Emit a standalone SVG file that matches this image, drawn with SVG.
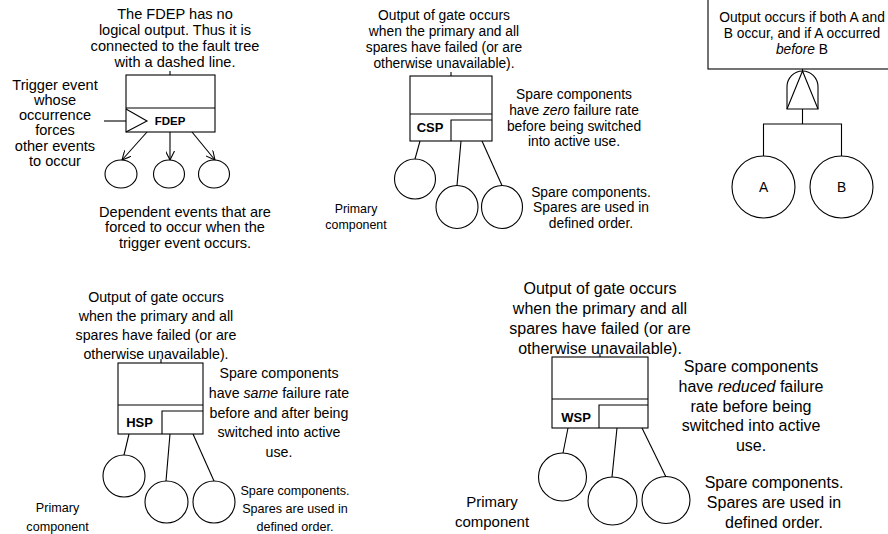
<svg xmlns="http://www.w3.org/2000/svg" width="888" height="534" viewBox="0 0 888 534">
<style>
.ln{fill:none;stroke:#000;stroke-width:1.1}
.bx{fill:#fff;stroke:#000;stroke-width:1.1}
text{font-family:"Liberation Sans",Arial,sans-serif;fill:#000;text-anchor:middle}
.t1{font-size:14.6px}
.t2{font-size:13.8px}
.t3{font-size:14.2px}
.t4{font-size:16px}
.s2{font-size:12.4px}
.s3{font-size:12.6px}
.s4{font-size:15px}
.lb{font-weight:bold;font-size:11.5px}
.lb2{font-weight:bold;font-size:13px}
</style>
<defs>
<marker id="arr" viewBox="0 0 10 10" refX="10" refY="5" markerWidth="9" markerHeight="9" markerUnits="userSpaceOnUse" orient="auto">
<path d="M0,0 L10,5 L0,10" fill="none" stroke="#000" stroke-width="1.2"/>
</marker>
</defs>
<rect width="888" height="534" fill="#fff"/>

<g id="fdep-gate">
<rect class="bx" x="126" y="75" width="89" height="57"/>
<line class="ln" x1="126" y1="108" x2="215" y2="108"/>
<polyline class="ln" points="126,109 147,121 126,132"/>
<line class="ln" x1="170" y1="71" x2="170" y2="75"/>
<text class="lb" x="170" y="125">FDEP</text>
</g>
<g id="fdep-events">
<ellipse class="ln" cx="121" cy="174" rx="16" ry="14"/>
<ellipse class="ln" cx="169" cy="174" rx="15.5" ry="14"/>
<ellipse class="ln" cx="214" cy="174" rx="15.5" ry="14"/>
</g>
<g id="fdep-text">
<text class="t1"><tspan x="175" y="19">The FDEP has no</tspan><tspan x="175" y="35">logical output. Thus it is</tspan><tspan x="175" y="51">connected to the fault tree</tspan><tspan x="175" y="67">with a dashed line.</tspan></text>
<text class="t1"><tspan x="55" y="90">Trigger event</tspan><tspan x="55" y="105">whose</tspan><tspan x="55" y="120">occurrence</tspan><tspan x="55" y="135">forces</tspan><tspan x="55" y="151">other events</tspan><tspan x="55" y="166">to occur</tspan></text>
<text class="t1"><tspan x="185" y="217">Dependent events that are</tspan><tspan x="185" y="232">forced to occur when the</tspan><tspan x="185" y="248">trigger event occurs.</tspan></text>
</g>

<g id="csp-gate">
<rect class="bx" x="410" y="76" width="82" height="65"/>
<line class="ln" x1="410" y1="114" x2="492" y2="114"/>
<polyline class="ln" points="451,141 451,120 492,120"/>
<line class="ln" x1="451" y1="72" x2="451" y2="76"/>
<text class="lb2" x="430" y="132">CSP</text>
</g>
<g id="csp-events">
<ellipse class="ln" cx="415" cy="179" rx="20.5" ry="20"/>
<ellipse class="ln" cx="457" cy="207" rx="21" ry="21.5"/>
<ellipse class="ln" cx="502" cy="207" rx="20.5" ry="21.5"/>
</g>
<g id="csp-text">
<text class="t2"><tspan x="444" y="20">Output of gate occurs</tspan><tspan x="444" y="36">when the primary and all</tspan><tspan x="444" y="52">spares have failed (or are</tspan><tspan x="444" y="68">otherwise unavailable).</tspan></text>
<text class="t2"><tspan x="574" y="99">Spare components</tspan><tspan x="574" y="115">have <tspan font-style="italic">zero</tspan> failure rate</tspan><tspan x="574" y="131">before being switched</tspan><tspan x="574" y="146">into active use.</tspan></text>
<text class="s2"><tspan x="356" y="213">Primary</tspan><tspan x="356" y="229">component</tspan></text>
<text class="t2"><tspan x="591" y="197">Spare components.</tspan><tspan x="591" y="212">Spares are used in</tspan><tspan x="591" y="228">defined order.</tspan></text>
</g>

<g id="pand-output">
<rect class="bx" x="708" y="-2" width="190" height="71"/>
<text class="t2"><tspan x="802" y="22">Output occurs if both A and</tspan><tspan x="802" y="38">B occur, and if A occurred</tspan><tspan x="802" y="54"><tspan font-style="italic">before</tspan> B</tspan></text>
</g>
<g id="pand-gate">
<path class="bx" d="M787,109 V87 A15.5,16 0 0 1 818,87 V109 Z"/>
<polyline class="ln" points="787,109 802.5,71 818,109"/>
</g>
<g id="pand-a">
<ellipse class="ln" cx="763.5" cy="187" rx="31.5" ry="31"/>
<text class="t2" x="763.5" y="192">A</text>
</g>
<g id="pand-b">
<ellipse class="ln" cx="841.5" cy="187" rx="31.5" ry="31"/>
<text class="t2" x="841.5" y="192">B</text>
</g>

<g id="hsp-gate">
<rect class="bx" x="118" y="363" width="85" height="71"/>
<line class="ln" x1="118" y1="405" x2="203" y2="405"/>
<polyline class="ln" points="162,434 162,411 203,411"/>
<line class="ln" x1="161" y1="359" x2="161" y2="363"/>
<text class="lb2" x="139.5" y="427">HSP</text>
</g>
<g id="hsp-events">
<ellipse class="ln" cx="124" cy="476" rx="21" ry="21"/>
<ellipse class="ln" cx="166.5" cy="502" rx="21.5" ry="21"/>
<ellipse class="ln" cx="214" cy="502" rx="21" ry="21"/>
</g>
<g id="hsp-text">
<text class="t3"><tspan x="156" y="302">Output of gate occurs</tspan><tspan x="156" y="321">when the primary and all</tspan><tspan x="156" y="340">spares have failed (or are</tspan><tspan x="156" y="359">otherwise unavailable).</tspan></text>
<text class="t3"><tspan x="279" y="378">Spare components</tspan><tspan x="279" y="398">have <tspan font-style="italic">same</tspan> failure rate</tspan><tspan x="279" y="418">before and after being</tspan><tspan x="279" y="437">switched into active</tspan><tspan x="279" y="457">use.</tspan></text>
<text class="s3"><tspan x="57.5" y="512">Primary</tspan><tspan x="57.5" y="531">component</tspan></text>
<text class="s3"><tspan x="295" y="495">Spare components.</tspan><tspan x="295" y="513">Spares are used in</tspan><tspan x="295" y="531">defined order.</tspan></text>
</g>

<g id="wsp-gate">
<rect class="bx" x="552" y="357" width="96" height="71"/>
<line class="ln" x1="552" y1="399" x2="648" y2="399"/>
<polyline class="ln" points="599,428 599,405 648,405"/>
<line class="ln" x1="600" y1="353" x2="600" y2="357"/>
<text class="lb2" x="576" y="422">WSP</text>
</g>
<g id="wsp-events">
<ellipse class="ln" cx="562.5" cy="477" rx="24" ry="24"/>
<ellipse class="ln" cx="612.5" cy="501" rx="24.5" ry="24"/>
<ellipse class="ln" cx="666" cy="500" rx="24" ry="23.5"/>
</g>
<g id="wsp-text">
<text class="t4"><tspan x="600" y="294">Output of gate occurs</tspan><tspan x="600" y="314">when the primary and all</tspan><tspan x="600" y="334">spares have failed (or are</tspan><tspan x="600" y="354">otherwise unavailable).</tspan></text>
<text class="t4"><tspan x="751" y="372">Spare components</tspan><tspan x="751" y="392">have <tspan font-style="italic">reduced</tspan> failure</tspan><tspan x="751" y="412">rate before being</tspan><tspan x="751" y="431">switched into active</tspan><tspan x="751" y="451">use.</tspan></text>
<text class="s4"><tspan x="492" y="507">Primary</tspan><tspan x="492" y="527">component</tspan></text>
<text class="t4"><tspan x="774" y="488">Spare components.</tspan><tspan x="774" y="508">Spares are used in</tspan><tspan x="774" y="528">defined order.</tspan></text>
</g>

<g id="connectors">
<line class="ln" x1="104" y1="121" x2="126" y2="121"/>
<line class="ln" x1="147" y1="132" x2="122" y2="160" marker-end="url(#arr)"/>
<line class="ln" x1="170" y1="132" x2="170" y2="160" marker-end="url(#arr)"/>
<line class="ln" x1="192" y1="132" x2="215" y2="160" marker-end="url(#arr)"/>
<line class="ln" x1="420" y1="141" x2="415" y2="159"/>
<line class="ln" x1="461" y1="141" x2="457" y2="185.5"/>
<line class="ln" x1="482" y1="141" x2="502" y2="185.5"/>
<line class="ln" x1="802.5" y1="69" x2="802.5" y2="71"/>
<polyline class="ln" points="802.5,109 802.5,124"/>
<polyline class="ln" points="763.5,156 763.5,124 841.5,124 841.5,156"/>
<line class="ln" x1="129" y1="434" x2="124" y2="455"/>
<line class="ln" x1="170" y1="434" x2="166" y2="481"/>
<line class="ln" x1="193" y1="434" x2="214" y2="481"/>
<line class="ln" x1="568" y1="428" x2="563" y2="453"/>
<line class="ln" x1="617" y1="428" x2="612" y2="477"/>
<line class="ln" x1="642" y1="428" x2="666" y2="477"/>
</g>
</svg>
